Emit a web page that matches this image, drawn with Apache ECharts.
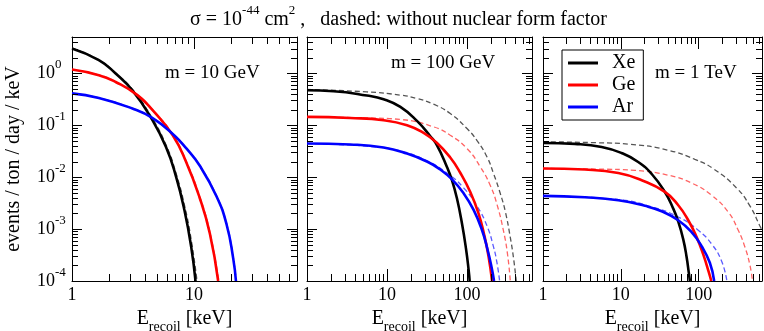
<!DOCTYPE html>
<html>
<head>
<meta charset="utf-8">
<script src="https://cdn.jsdelivr.net/npm/echarts@6/dist/echarts.min.js"></script>
<style>
html, body {margin: 0; padding: 0; background: #fff;}
#chart {width: 764px; height: 331px;}
</style>
</head>
<body>
<div id="chart"></div>
<script>
const FONT = 'Liberation Serif';

// [E_recoil (keV), events / ton / day / keV]
// m = 10 GeV
const xe10 = [[1, 3.0], [1.66, 1.79], [2.28, 0.99], [3.13, 0.47], [4.44, 0.14], [5.9, 0.038], [7.14, 0.0101], [8.36, 0.0023], [9.5, 4.5e-4], [10.3, 1e-4]];
const ge10 = [[1, 1.18], [1.66, 0.92], [2.28, 0.68], [3.44, 0.38], [4.58, 0.195], [6.7, 0.064], [8.63, 0.0195], [11.1, 0.0041], [13.5, 8.2e-4], [15.8, 1e-4]];
const ar10 = [[1, 0.41], [1.66, 0.336], [3.13, 0.21], [4.52, 0.14], [6.7, 0.068], [8.63, 0.0361], [11.1, 0.0169], [15.3, 0.00429], [18.5, 1.24e-3], [21, 2.7e-4], [22.1, 1e-4]];
const xe10nf = [[1, 3.05], [1.66, 1.82], [2.28, 1.01], [3.13, 0.49], [4.44, 0.15], [5.9, 0.042], [7.14, 0.0118], [8.36, 0.0029], [9.5, 6.2e-4], [10.6, 1e-4]];
const ge10nf = [[1, 1.19], [1.66, 0.93], [2.28, 0.69], [3.44, 0.385], [4.58, 0.2], [6.7, 0.066], [8.63, 0.0205], [11.1, 0.0044], [13.5, 8.9e-4], [16, 1e-4]];
const ar10nf = [[1, 0.41], [1.66, 0.337], [3.13, 0.211], [4.52, 0.141], [6.7, 0.069], [8.63, 0.0366], [11.1, 0.0172], [15.3, 0.0044], [18.5, 1.3e-3], [21, 2.9e-4], [22.2, 1e-4]];

// m = 100 GeV
const xe100 = [[1, 0.47], [2.15, 0.452], [5.62, 0.373], [9.07, 0.317], [14.7, 0.225], [23.7, 0.121], [34.8, 0.0614], [42.2, 0.041], [56.2, 0.0157], [65, 0.0087], [75, 0.00387], [86.6, 0.00128], [97.2, 4.2e-4], [105, 1.6e-4], [108, 1e-4]];
const ge100 = [[1, 0.145], [3.48, 0.138], [9.07, 0.125], [17.8, 0.1], [28.7, 0.0711], [42.2, 0.0456], [61.8, 0.0239], [82, 0.0123], [110, 0.00516], [140, 0.00196], [164, 7.8e-4], [186, 3.0e-4], [206, 1e-4]];
const ar100 = [[1, 0.0444], [3.48, 0.0425], [9.07, 0.0372], [17.8, 0.0285], [31.6, 0.02], [46.4, 0.014], [65, 0.00904], [90.8, 0.00488], [121, 0.00234], [154, 9.6e-4], [181, 4.0e-4], [203, 1.84e-4], [218, 1e-4]];
const xe100nf = [[1, 0.488], [5.62, 0.438], [14.7, 0.38], [23.7, 0.327], [38.3, 0.254], [61.8, 0.168], [100, 0.0863], [133, 0.051], [178, 0.0245], [215, 0.0117], [261, 0.00483], [301, 0.0022], [348, 6.9e-4], [383, 2.67e-4], [413, 1e-4]];
const ge100nf = [[1, 0.145], [5.62, 0.138], [14.7, 0.129], [38.3, 0.093], [61.8, 0.064], [100, 0.0356], [147, 0.0157], [195, 0.0070], [237, 0.0030], [287, 9.0e-4], [322, 3.2e-4], [348, 1e-4]];
const ar100nf = [[1, 0.0444], [5.62, 0.0394], [14.7, 0.032], [31.6, 0.0205], [56.2, 0.012], [90.8, 0.00622], [133, 0.00279], [178, 0.00115], [215, 4.5e-4], [237, 2.25e-4], [256, 1e-4]];

// m = 1 TeV
const xe1t = [[1, 0.0456], [2.57, 0.0437], [5.67, 0.0382], [10.2, 0.0292], [16.7, 0.0196], [24.9, 0.0115], [36.8, 0.00519], [47.1, 0.00248], [54.6, 0.0014], [63.2, 6.4e-4], [69.9, 2.9e-4], [74.8, 1.4e-4], [77.1, 1e-4]];
const ge1t = [[1, 0.0147], [3.46, 0.014], [9.27, 0.012], [18.5, 0.0087], [36.8, 0.00519], [54.6, 0.00288], [73.4, 0.00148], [94, 7.0e-4], [114, 3.3e-4], [135, 1.46e-4], [145, 1e-4]];
const ar1t = [[1, 0.00435], [3.46, 0.0041], [9.27, 0.0036], [20.4, 0.0028], [33.4, 0.0022], [54.6, 0.00148], [81, 8.7e-4], [109, 4.67e-4], [139, 2.24e-4], [158, 1e-4]];
const xe1tnf = [[1, 0.048], [5, 0.046], [13.1, 0.043], [40.6, 0.033], [89.4, 0.022], [154, 0.0145], [306, 0.0062], [454, 0.0028], [611, 0.00115], [650, 9.6e-4]];
const ge1tnf = [[1, 0.0147], [5, 0.0143], [15.2, 0.0135], [40.6, 0.0109], [81, 0.0077], [146, 0.00448], [239, 0.00213], [322, 9.5e-4], [392, 4.5e-4], [454, 2.05e-4], [490, 1e-4]];
const ar1tnf = [[1, 0.00435], [9.27, 0.0037], [24.9, 0.00267], [54.6, 0.00171], [98.6, 9.5e-4], [146, 5.2e-4], [197, 2.4e-4], [230, 1e-4]];

const targets = ['Xe', 'Ge', 'Ar'];
const massLabels = ['m = 10 GeV', 'm = 100 GeV', 'm = 1 TeV'];
const xMax = [70, 650, 650];
const Y_MIN = 1e-4, Y_MAX = 5;

// minor tick positions
const xMinor = [
    [2, 3, 4, 5, 6, 7, 8, 9, 20, 30, 40, 50, 60],
    [2, 3, 4, 5, 6, 7, 8, 9, 20, 30, 40, 50, 60, 70, 80, 90, 200, 300, 400, 500, 600],
    [2, 3, 4, 5, 6, 7, 8, 9, 20, 30, 40, 50, 60, 70, 80, 90, 200, 300, 400, 500, 600]
];
const yMinor = [2e-4, 3e-4, 4e-4, 5e-4, 6e-4, 7e-4, 8e-4, 9e-4, 2e-3, 3e-3, 4e-3, 5e-3, 6e-3, 7e-3, 8e-3, 9e-3,
    0.02, 0.03, 0.04, 0.05, 0.06, 0.07, 0.08, 0.09, 0.2, 0.3, 0.4, 0.5, 0.6, 0.7, 0.8, 0.9, 2, 3, 4];

const solid = [[xe10, ge10, ar10], [xe100, ge100, ar100], [xe1t, ge1t, ar1t]];
const dashed = [[xe10nf, ge10nf, ar10nf], [xe100nf, ge100nf, ar100nf], [xe1tnf, ge1tnf, ar1tnf]];

const solidColors = ['#000000', '#ff0000', '#0000ff'];
const dashColors = ['#555555', '#ff6464', '#5a5aff'];

const grids = [
    {left: 72, top: 37, width: 225, height: 244},
    {left: 307, top: 37, width: 225, height: 244},
    {left: 543, top: 37, width: 219, height: 244}
];

const chart = echarts.init(document.getElementById('chart'));

const axisLine = {show: true, onZero: false, lineStyle: {color: '#000', width: 1}};
const xAxes = [], yAxes = [], series = [];

grids.forEach((g, i) => {
    const xBase = {
        type: 'log', logBase: 10, min: 1, max: xMax[i], gridIndex: i,
        axisLine: axisLine,
        axisTick: {show: true, inside: true, length: 12, lineStyle: {color: '#000', width: 1}},
        splitLine: {show: false}
    };
    xAxes.push(Object.assign({}, xBase, {
        position: 'bottom',
        axisLabel: {
            show: true, margin: 5, showMaxLabel: false,
            formatter: v => '{t|' + Math.round(v) + '}',
            rich: {t: {fontFamily: FONT, fontSize: 18, color: '#000'}}
        },
        name: '{a|E}{b|recoil}{a| [keV]}',
        nameLocation: 'middle',
        nameGap: 19,
        nameTextStyle: {
            fontFamily: FONT,
            rich: {
                a: {fontFamily: FONT, fontSize: 20, color: '#000', verticalAlign: 'bottom', padding: [0, 0, 5, 0]},
                b: {fontFamily: FONT, fontSize: 14, color: '#000', verticalAlign: 'bottom'}
            }
        }
    }));
    xAxes.push(Object.assign({}, xBase, {position: 'top', axisLabel: {show: false}}));

    const yBase = {
        type: 'log', logBase: 10, min: Y_MIN, max: Y_MAX, gridIndex: i,
        axisLine: axisLine,
        axisTick: {show: true, inside: true, length: 10, lineStyle: {color: '#000', width: 1}},
        splitLine: {show: false}
    };
    const yLeft = Object.assign({}, yBase, {
        position: 'left',
        axisLabel: {
            show: i === 0,
            showMaxLabel: false,
            align: 'left',
            margin: 35,
            formatter: v => '{a|10}{b|' + Math.round(Math.log10(v)) + '}',
            rich: {
                a: {fontFamily: FONT, fontSize: 18, color: '#000', verticalAlign: 'bottom', padding: [6, 0, 6, 0]},
                b: {fontFamily: FONT, fontSize: 13, color: '#000', verticalAlign: 'top'}
            }
        }
    });
    if (i === 0) {
        yLeft.name = 'events / ton / day / keV';
        yLeft.nameLocation = 'middle';
        yLeft.nameGap = 48;
        yLeft.nameTextStyle = {fontFamily: FONT, fontSize: 20, color: '#000'};
    }
    yAxes.push(yLeft);
    yAxes.push(Object.assign({}, yBase, {position: 'right', axisLabel: {show: false}}));

    // curves
    dashed[i].forEach((d, k) => {
        series.push({
            name: targets[k] + ' (no form factor)', type: 'line', data: d,
            xAxisIndex: 2 * i, yAxisIndex: 2 * i,
            showSymbol: false, symbol: 'none', smooth: 0.5,
            lineStyle: {color: dashColors[k], width: 1.3, type: [5, 3]},
            z: 2, silent: true
        });
    });
    solid[i].forEach((d, k) => {
        series.push({
            name: targets[k], type: 'line', data: d,
            xAxisIndex: 2 * i, yAxisIndex: 2 * i,
            showSymbol: false, symbol: 'none', smooth: 0.5,
            color: solidColors[k],
            lineStyle: {color: solidColors[k], width: 2.6},
            z: 3, silent: true
        });
    });

    // minor ticks on all four sides
    const st = {stroke: '#000', lineWidth: 1};
    series.push({
        type: 'custom', xAxisIndex: 2 * i, yAxisIndex: 2 * i, silent: true, z: 4,
        data: xMinor[i].map(v => [v, Y_MIN]),
        renderItem: (params, api) => {
            const lo = api.coord([api.value(0), Y_MIN]);
            const hi = api.coord([api.value(0), Y_MAX]);
            const x = Math.round(lo[0]) + 0.5;
            return {type: 'group', children: [
                {type: 'line', shape: {x1: x, y1: lo[1], x2: x, y2: lo[1] - 7}, style: st},
                {type: 'line', shape: {x1: x, y1: hi[1], x2: x, y2: hi[1] + 7}, style: st}
            ]};
        }
    });
    series.push({
        type: 'custom', xAxisIndex: 2 * i, yAxisIndex: 2 * i, silent: true, z: 4,
        data: yMinor.map(v => [1, v]),
        renderItem: (params, api) => {
            const l = api.coord([1, api.value(1)]);
            const r = api.coord([xMax[i], api.value(1)]);
            const y = Math.round(l[1]) + 0.5;
            return {type: 'group', children: [
                {type: 'line', shape: {x1: l[0], y1: y, x2: l[0] + 6, y2: y}, style: st},
                {type: 'line', shape: {x1: r[0], y1: y, x2: r[0] - 6, y2: y}, style: st}
            ]};
        }
    });
});

const titles = [{
    text: '{a|σ = 10}{s|-44}{a| cm}{s|2}{a| ,   dashed: without nuclear form factor}',
    left: 190, top: 4, padding: 0,
    textStyle: {
        fontFamily: FONT, fontWeight: 'normal',
        rich: {
            a: {fontFamily: FONT, fontSize: 20, fontWeight: 'normal', color: '#000', verticalAlign: 'bottom', padding: [6, 0, 0, 0]},
            s: {fontFamily: FONT, fontSize: 13, fontWeight: 'normal', color: '#000', verticalAlign: 'top'}
        }
    }
}];
const labelPos = [[165, 64], [391, 54], [655, 64]];
massLabels.forEach((t, i) => {
    titles.push({
        text: t, left: labelPos[i][0], top: labelPos[i][1], padding: 0,
        textStyle: {fontFamily: FONT, fontSize: 19, fontWeight: 'normal', color: '#000'}
    });
});

chart.setOption({
    animation: false,
    backgroundColor: '#fff',
    textStyle: {fontFamily: FONT},
    title: titles,
    grid: grids.map(g => Object.assign({show: false, containLabel: false, outerBoundsMode: 'none'}, g)),
    xAxis: xAxes,
    yAxis: yAxes,
    legend: {
        data: targets,
        orient: 'vertical',
        left: 562, top: 50,
        icon: 'rect',
        itemWidth: 30, itemHeight: 3,
        itemGap: 2,
        padding: [3, 8, 3, 6],
        borderColor: '#000', borderWidth: 1, borderRadius: 0,
        backgroundColor: '#fff',
        selectedMode: false,
        textStyle: {fontFamily: FONT, fontSize: 20, color: '#000', padding: [0, 0, 0, 9]}
    },
    series: series
});
</script>
</body>
</html>
